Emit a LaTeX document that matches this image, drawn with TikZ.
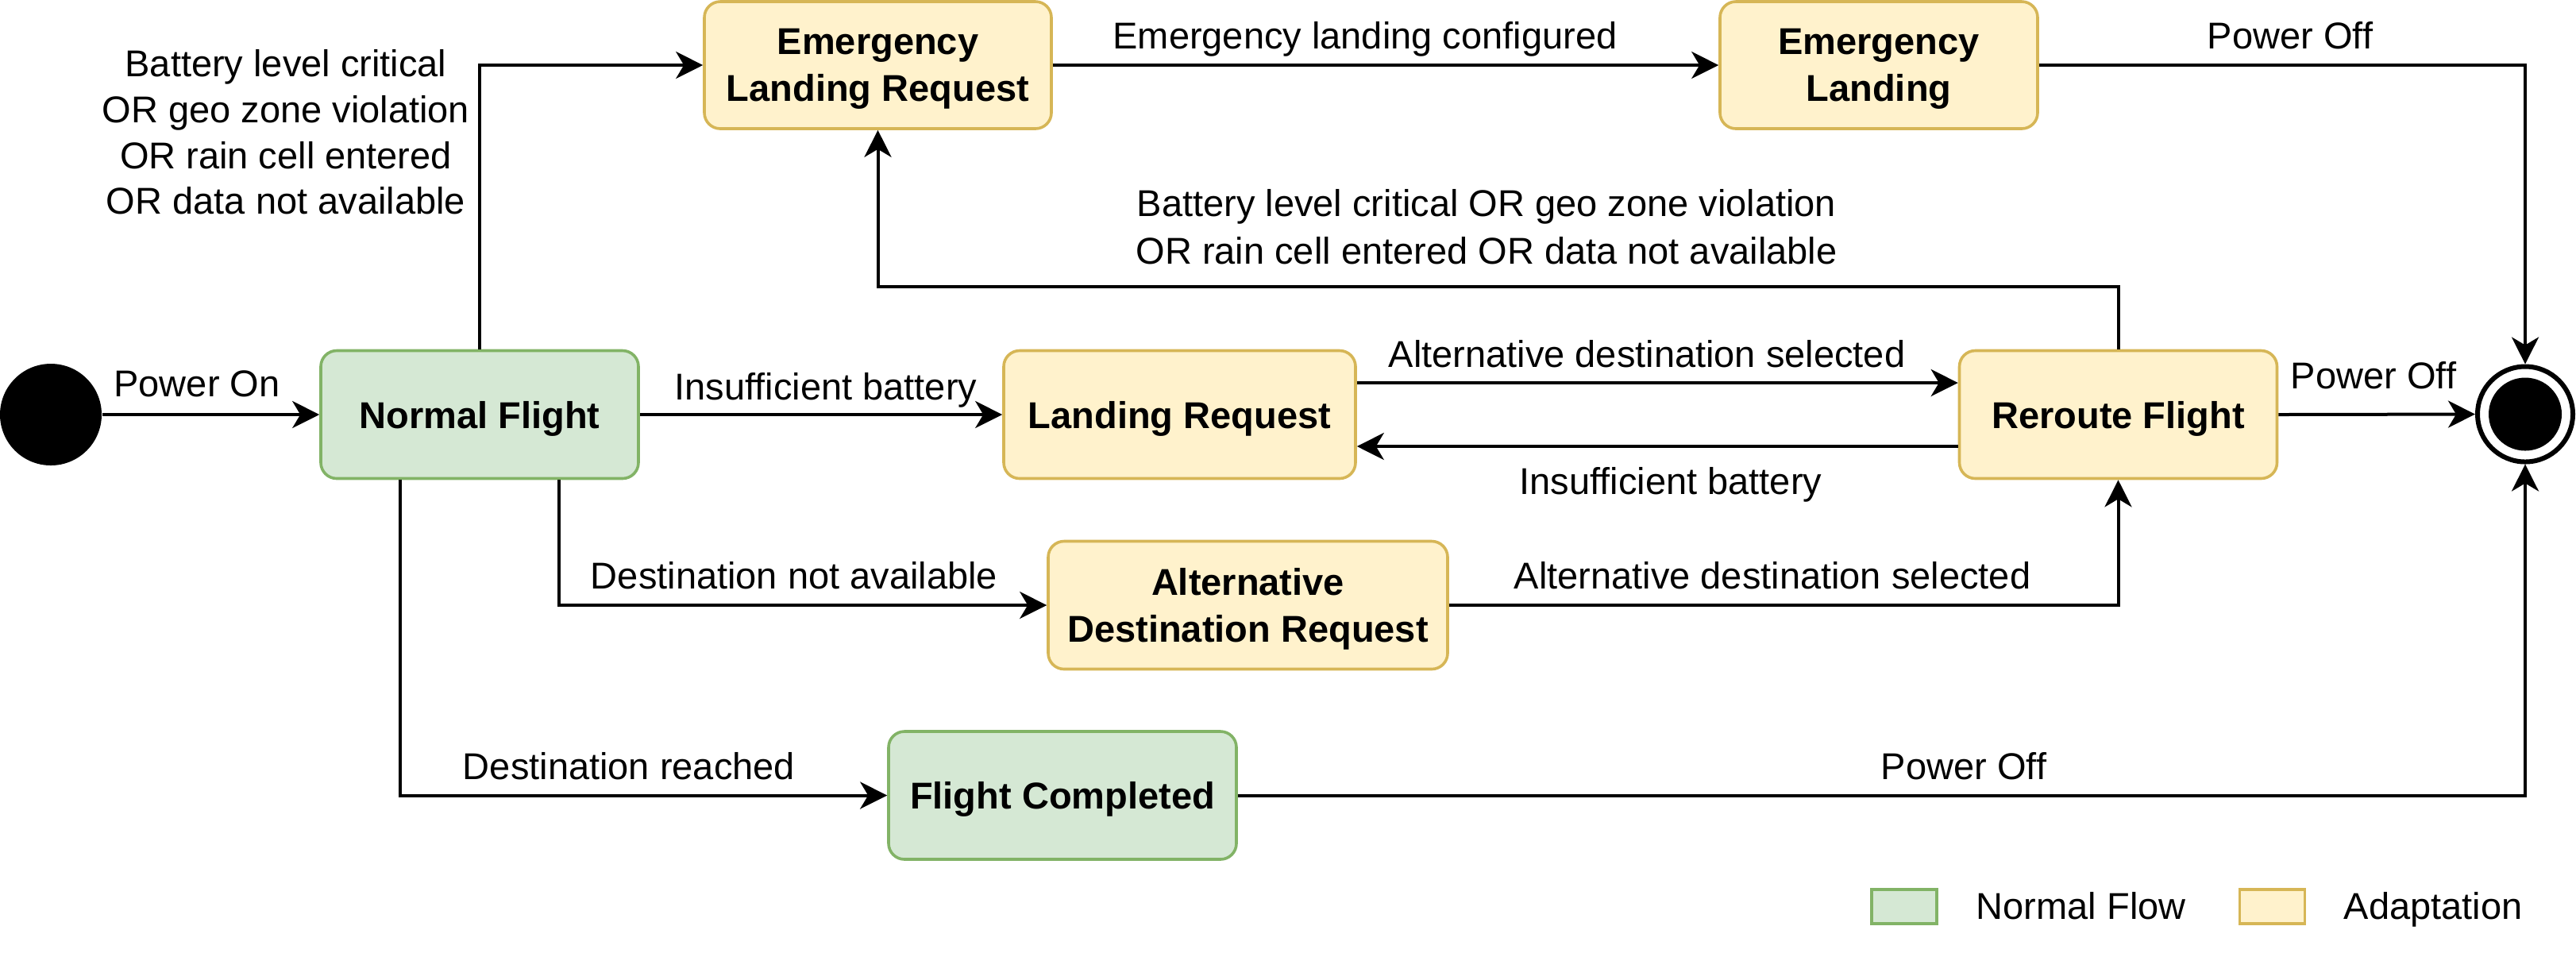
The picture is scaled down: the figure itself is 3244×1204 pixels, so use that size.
\documentclass[tikz,border=0pt]{standalone}
\usepackage{fontspec}
\setmainfont{Liberation Sans}
\usetikzlibrary{arrows.meta}
\definecolor{gfill}{HTML}{D5E8D4}
\definecolor{gdraw}{HTML}{82B366}
\definecolor{yfill}{HTML}{FFF2CC}
\definecolor{ydraw}{HTML}{D6B656}
\begin{document}
\begin{tikzpicture}[x=0.25pt, y=-0.25pt,
  every node/.style={font=\fontsize{11.75pt}{14.5pt}\selectfont},
  state/.style={rounded corners=5pt, line width=0.9pt, inner sep=0pt, align=center, text depth=0pt,
    font=\fontsize{11.75pt}{14.75pt}\selectfont\bfseries},
  normal/.style={state, fill=gfill, draw=gdraw},
  adapt/.style={state, fill=yfill, draw=ydraw},
  arr/.style={line width=1pt, -{Stealth[length=8.5pt, width=8.5pt, inset=2.5pt]}},
  lbl/.style={anchor=base, inner sep=0pt},
  legbox/.style={line width=0.9pt, minimum width=20.5pt, minimum height=10.75pt, inner sep=0pt}
]
\useasboundingbox (0,0) rectangle (3244,1204);

% states
\node[circle, fill=black, minimum size=32pt, inner sep=0pt] (start) at (64,522) {};
\node[normal, minimum width=100pt, minimum height=40.25pt] (nf) at (604,522) {Normal Flight};
\node[adapt, minimum width=109.25pt, minimum height=40pt] (elr) at (1105.5,82) {Emergency\\Landing Request};
\node[adapt, minimum width=110.75pt, minimum height=40.25pt] (lr) at (1485.5,522) {Landing Request};
\node[adapt, minimum width=100pt, minimum height=40pt] (el) at (2366,82) {Emergency\\Landing};
\node[adapt, minimum width=100pt, minimum height=40.25pt] (rf) at (2667.5,522) {Reroute Flight};
\node[adapt, minimum width=125.75pt, minimum height=40.25pt] (adr) at (1571.5,762) {Alternative\\Destination Request};
\node[normal, minimum width=109.5pt, minimum height=40.25pt] (fc) at (1338,1001.5) {Flight Completed};
\node[circle, draw=black, line width=1.5pt, minimum size=30pt, inner sep=0pt] (end) at (3180,521.5) {};
\node[circle, fill=black, minimum size=23pt, inner sep=0pt] (endin) at (end.center) {};

% connectors
\coordinate (k1) at (1105.5,361);
\draw[arr] (start) -- (nf);
\draw[arr] (nf.north) |- (elr.west);
\draw[arr] (elr.east) -- (el.west);
\draw[arr] (el.east) -| (end.north);
\draw[arr] (rf.north) |- (k1) -- (elr.south);
\draw[arr] (nf.east) -- (lr.west);
\draw[arr] ([yshift=10pt]lr.east) -- ([yshift=10pt]rf.west);
\draw[arr] ([yshift=-10pt]rf.west) -- ([yshift=-10pt]lr.east);
\draw[arr] (rf.east) -- (end.west);
\draw[arr] ([xshift=25pt]nf.south) |- (adr.west);
\draw[arr] (adr.east) -| (rf.south);
\draw[arr] ([xshift=-25pt]nf.south) |- (fc.west);
\draw[arr] (fc.east) -| (end.south);

% labels
\node[lbl] (l1) at (248,499) {Power On};
\node[align=center, inner sep=0pt, font=\fontsize{11.75pt}{14.4pt}\selectfont] (l2) at (360,166.5)
  {Battery level critical\\OR geo zone violation\\OR rain cell entered\\OR data not available};
\node[lbl] (l3) at (1719,61) {Emergency landing configured};
\node[lbl] (l4) at (2884,61) {Power Off};
\node[align=center, inner sep=0pt, font=\fontsize{11.75pt}{15pt}\selectfont] (l5) at (1872,286)
  {Battery level critical OR geo zone violation\\OR rain cell entered OR data not available};
\node[lbl] (l6) at (1040,503) {Insufficient battery};
\node[lbl] (l7) at (2074,462) {Alternative destination selected};
\node[lbl] (l8) at (2104,622) {Insufficient battery};
\node[lbl] (l9) at (2989,489) {Power Off};
\node[lbl] (l10) at (1000,741) {Destination not available};
\node[lbl] (l11) at (2232,741) {Alternative destination selected};
\node[lbl] (l12) at (792,981) {Destination reached};
\node[lbl] (l13) at (2473,981) {Power Off};

% legend
\node[legbox, draw=gdraw, fill=gfill] (lg1) at (2398,1141.5) {};
\node[anchor=base west, inner sep=0pt] (lg1t) at (2488,1157) {Normal Flow};
\node[legbox, draw=ydraw, fill=yfill] (lg2) at (2861.5,1141.5) {};
\node[anchor=base west, inner sep=0pt] (lg2t) at (2951,1157) {Adaptation};
\end{tikzpicture}
\end{document}
